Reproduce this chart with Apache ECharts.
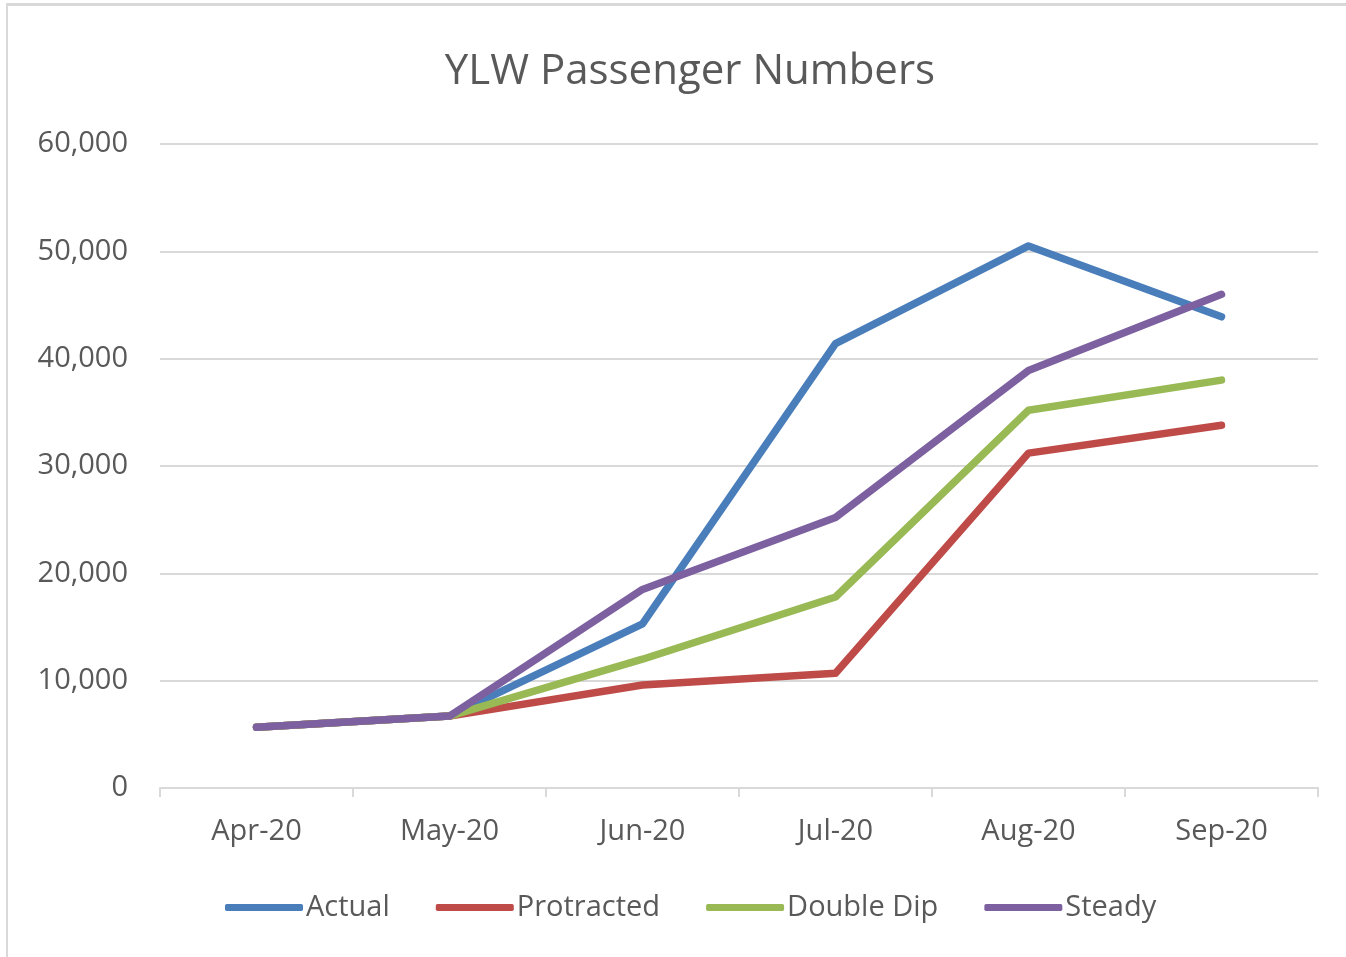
<!DOCTYPE html>
<html>
<head>
<meta charset="utf-8">
<script src="https://cdn.jsdelivr.net/npm/echarts@6/dist/echarts.min.js"></script>
<style>
  html, body { margin: 0; padding: 0; background: #fff; }
  #chart { position: absolute; left: 0; top: 0; width: 1346px; height: 957px; }
  #frame { position: absolute; left: 6px; top: 3px; width: 1340px; height: 954px;
           border-top: 3px solid #d9d9d9; border-left: 2px solid #d9d9d9; box-sizing: border-box; }
</style>
</head>
<body>
<div id="frame"></div>
<div id="chart"></div>
<script>
// Dati del grafico
var mesi = ['Apr-20', 'May-20', 'Jun-20', 'Jul-20', 'Aug-20', 'Sep-20'];
var actual = [5650, 6700, 15300, 41400, 50500, 43900];
var protracted = [5650, 6700, 9600, 10700, 31200, 33800];
var doubleDip = [5650, 6700, 12000, 17800, 35200, 38000];
var steady = [5650, 6700, 18500, 25200, 38900, 46000];

var colori = ['#4a7ebb', '#be4b48', '#98b954', '#7d60a0'];
var font = 'Open Sans';

function serie(nome, dati, colore) {
  return {
    name: nome, type: 'line', data: dati, symbol: 'none',
    lineStyle: { width: 7.5, color: colore, cap: 'round', join: 'round' },
    itemStyle: { color: colore }
  };
}

var grafico = echarts.init(document.getElementById('chart'));
grafico.setOption({
  animation: false,
  title: {
    text: 'YLW Passenger Numbers', left: 685, textAlign: 'center', top: 46,
    textStyle: { fontFamily: font, fontSize: 42, fontWeight: 'normal', color: '#595959' }
  },
  grid: { left: 160, right: 28, top: 144, bottom: 169 },
  legend: {
    bottom: 30, left: 220, itemWidth: 78, itemHeight: 7, itemGap: 46,
    icon: 'roundRect',
    textStyle: { fontFamily: font, fontSize: 29, color: '#595959', padding: [0, 0, 0, -2] },
    data: ['Actual', 'Protracted', 'Double Dip', 'Steady']
  },
  xAxis: {
    type: 'category', data: mesi, boundaryGap: true,
    axisLine: { lineStyle: { color: '#d9d9d9', width: 2 } },
    axisTick: { show: true, length: 9, lineStyle: { color: '#d9d9d9', width: 2 } },
    axisLabel: { fontFamily: font, fontSize: 29, color: '#595959', margin: 29 }
  },
  yAxis: {
    type: 'value', min: 0, max: 60000, interval: 10000,
    axisLine: { show: false }, axisTick: { show: false },
    splitLine: { lineStyle: { color: '#d9d9d9', width: 2 } },
    axisLabel: {
      fontFamily: font, fontSize: 29, color: '#595959', margin: 32,
      formatter: function (v) { return v.toLocaleString('en-US'); }
    }
  },
  series: [
    serie('Actual', actual, colori[0]),
    serie('Protracted', protracted, colori[1]),
    serie('Double Dip', doubleDip, colori[2]),
    serie('Steady', steady, colori[3])
  ]
});
</script>
</body>
</html>
